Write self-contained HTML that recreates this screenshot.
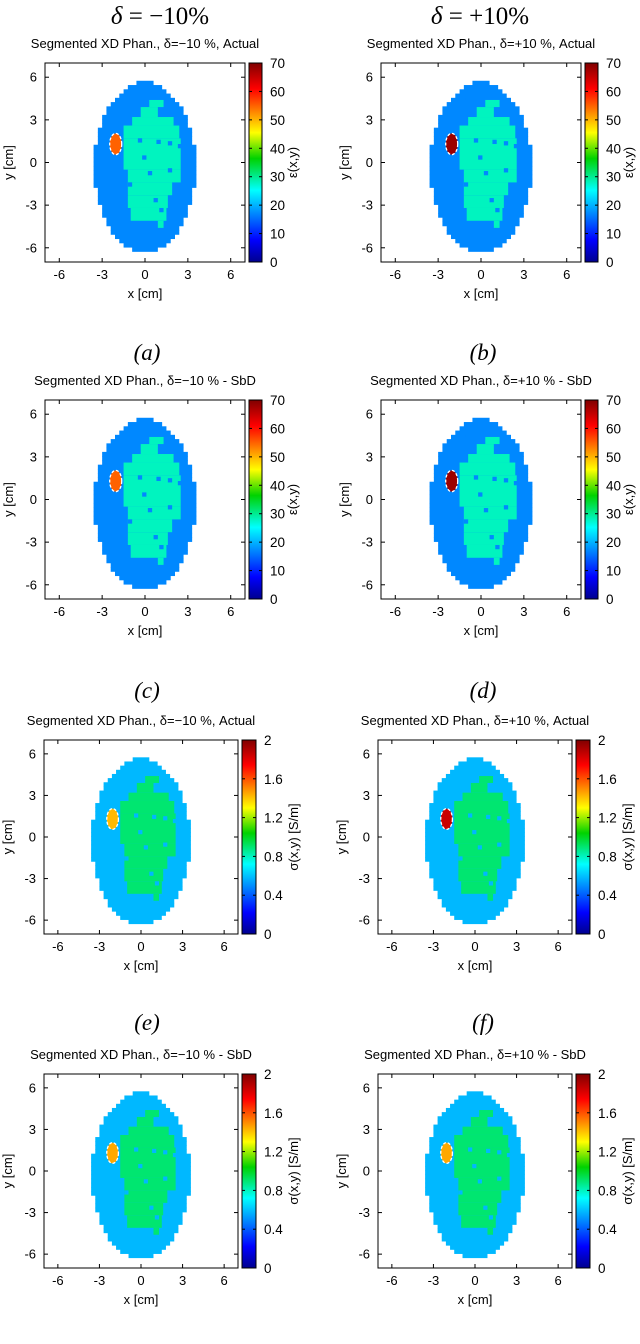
<!DOCTYPE html>
<html><head><meta charset="utf-8">
<style>
html,body{margin:0;padding:0;background:#fff;}
svg{display:block;font-family:"Liberation Sans",sans-serif;}
.serif{font-family:"Liberation Serif",serif;}
</style></head>
<body>
<svg id="fig" width="640" height="1344" viewBox="0 0 640 1344" xmlns="http://www.w3.org/2000/svg">
<defs>
<linearGradient id="jet" x1="0" y1="1" x2="0" y2="0">
<stop offset="0" stop-color="#00008f"/><stop offset="0.11" stop-color="#0000ff"/>
<stop offset="0.36" stop-color="#00ffff"/><stop offset="0.52" stop-color="#00d200"/>
<stop offset="0.65" stop-color="#ffff00"/>
<stop offset="0.87" stop-color="#ff0000"/><stop offset="1" stop-color="#800000"/>
</linearGradient>
</defs>
<text class="serif" x="160" y="24" font-size="25" text-anchor="middle"><tspan font-style="italic">δ</tspan> = −10%</text>
<text class="serif" x="480" y="24" font-size="25" text-anchor="middle"><tspan font-style="italic">δ</tspan> = +10%</text>
</svg>
<script>
// Data
const axisTicks = [-6, -3, 0, 3, 6];
const epsTicks = [0, 10, 20, 30, 40, 50, 60, 70];
const sigTicks = [0, 0.4, 0.8, 1.2, 1.6, 2];
const epsMax = 70, sigMax = 2;
// phantom outer ellipse [cx, cy, rx, ry] in cm
const outerEllipse = [0, -0.3, 3.55, 5.95];
// inclusion ellipse [cx, cy, rx, ry]
const inclusion = [-2.05, 1.3, 0.42, 0.75];
// inner tissue spans: [yTop, yBottom, xLeft, xRight] in cm
const innerSpans = [
 [4.4, 3.9, 0.3, 1.3],
 [3.9, 3.2, -0.3, 0.9],
 [3.2, 2.6, -0.9, 2.0],
 [2.6, 1.7, -1.5, 2.4],
 [1.7, -0.5, -1.5, 2.5],
 [-0.5, -1.4, -1.2, 2.5],
 [-1.4, -2.3, -1.2, 1.9],
 [-2.3, -3.2, -1.2, 1.6],
 [-3.2, -4.1, -1.0, 1.5],
 [-4.1, -4.6, 0.9, 1.3]
];
// outer-tissue dots inside inner region [x, y]
const holes = [[-1.1,4.4],[-1.5,3.5],[-0.5,1.4],[0.8,1.3],[1.6,1.2],[2.3,1.0],[-0.2,0.2],[0.2,-0.9],[1.6,-0.7],[-1.2,-1.7],[1.0,-3.5],[0.6,-2.8]];
const panels = [
 {label:'(a)', title:'Segmented XD Phan., δ=−10 %, Actual', kind:'eps', outer:17, inner:28, inc:55},
 {label:'(b)', title:'Segmented XD Phan., δ=+10 %, Actual', kind:'eps', outer:17, inner:28, inc:68},
 {label:'(c)', title:'Segmented XD Phan., δ=−10 % - SbD', kind:'eps', outer:17, inner:28, inc:55},
 {label:'(d)', title:'Segmented XD Phan., δ=+10 % - SbD', kind:'eps', outer:17, inner:28, inc:68},
 {label:'(e)', title:'Segmented XD Phan., δ=−10 %, Actual', kind:'sig', outer:0.58, inner:0.9, inc:1.42},
 {label:'(f)', title:'Segmented XD Phan., δ=+10 %, Actual', kind:'sig', outer:0.58, inner:0.9, inc:1.85},
 {label:'(g)', title:'Segmented XD Phan., δ=−10 % - SbD', kind:'sig', outer:0.58, inner:0.9, inc:1.45},
 {label:'(h)', title:'Segmented XD Phan., δ=+10 % - SbD', kind:'sig', outer:0.58, inner:0.9, inc:1.45}
];
const subLabels = ['(a)','(b)','(c)','(d)','(e)','(f)'];

const NS='http://www.w3.org/2000/svg';
const svg=document.getElementById('fig');
function mk(tag,attrs,parent){const e=document.createElementNS(NS,tag);for(const k in attrs)e.setAttribute(k,attrs[k]);(parent||svg).appendChild(e);return e;}
function jet(t){
 const st=[[0,[0,0,143]],[0.11,[0,0,255]],[0.36,[0,255,255]],[0.52,[0,210,0]],[0.65,[255,255,0]],[0.87,[255,0,0]],[1,[128,0,0]]];
 t=Math.max(0,Math.min(1,t));
 for(let i=1;i<st.length;i++){if(t<=st[i][0]){const a=st[i-1],b=st[i],f=(t-a[0])/(b[0]-a[0]);
  return 'rgb('+a[1].map((v,j)=>Math.round(v+(b[1][j]-v)*f)).join(',')+')';}}
 return 'rgb(128,0,0)';
}
const rowTops=[63,400,740,1074];
panels.forEach((p,i)=>{
 const col=i%2,row=Math.floor(i/2);
 const eps=p.kind==='eps';
 const W=eps?200:194,H=eps?199:194;
 const bx=(eps?45:44)+col*(eps?336:334),by=rowTops[row];
 const max=eps?epsMax:sigMax;
 const g=mk('g',{});
 
 
 const sx=v=>bx+(v+7)/14*W, sy=v=>by+(7-v)/14*H;
 const t=mk('text',{x:bx+W/2,y:by-15,'font-size':13,'text-anchor':'middle'},g);t.textContent=p.title;
 
 
 const cs=0.3;
 const cOut=jet(p.outer/max),cIn=jet(p.inner/max);
 const [ecx,ecy,erx,ery]=outerEllipse;
 for(let y=ecy-ery;y<ecy+ery;y+=cs){
  const yc=y+cs/2;
  const dy=(yc-ecy)/ery; if(Math.abs(dy)>1)continue;
  const half=erx*Math.sqrt(1-dy*dy);
  const nl=Math.round(half/cs)*cs;
  mk('rect',{x:sx(-nl),y:sy(y+cs),width:sx(nl)-sx(-nl),height:sy(y)-sy(y+cs)+0.5,fill:cOut},g);
 }
 innerSpans.forEach(s=>{
  const r=mk('rect',{x:sx(s[2]),y:sy(s[0]),width:sx(s[3])-sx(s[2]),height:sy(s[1])-sy(s[0]),fill:cIn},g);
  
  
 });
 holes.forEach(h=>{mk('rect',{x:sx(h[0]),y:sy(h[1]+cs),width:sx(cs)-sx(0),height:sy(0)-sy(cs),fill:cOut},g);});
 const [icx,icy,irx,iry]=inclusion;
 const inc=mk('ellipse',{cx:sx(icx),cy:sy(icy),rx:sx(irx)-sx(0),ry:sy(0)-sy(iry),fill:jet(p.inc/max),stroke:'#fff','stroke-width':1.3,'stroke-dasharray':'3,2'},g);
 
 
 mk('rect',{x:bx,y:by,width:W,height:H,fill:'none',stroke:'#000','stroke-width':1},g);
 axisTicks.forEach(v=>{
  mk('line',{x1:sx(v),x2:sx(v),y1:by+H,y2:by+H-4,stroke:'#000'},g);
  mk('line',{x1:sx(v),x2:sx(v),y1:by,y2:by+4,stroke:'#000'},g);
  mk('line',{x1:bx,x2:bx+4,y1:sy(v),y2:sy(v),stroke:'#000'},g);
  mk('line',{x1:bx+W,x2:bx+W-4,y1:sy(v),y2:sy(v),stroke:'#000'},g);
  const tx=mk('text',{x:sx(v),y:by+H+17,'font-size':13,'text-anchor':'middle'},g);tx.textContent=v;
  const ty=mk('text',{x:bx-8,y:sy(v)+4.5,'font-size':13,'text-anchor':'end'},g);ty.textContent=v;
 });
 const xl=mk('text',{x:bx+W/2,y:by+H+36,'font-size':13,'text-anchor':'middle'},g);xl.textContent='x [cm]';
 
 
 const yl=mk('text',{x:0,y:0,'font-size':13,'text-anchor':'middle',transform:`translate(${bx-32},${by+H/2}) rotate(-90)`},g);yl.textContent='y [cm]';
 
 
 const cx=bx+W+4,cw=eps?13:14;
 const cb=mk('rect',{x:cx,y:by,width:cw,height:H,fill:'url(#jet)',stroke:'#000','stroke-width':1},g);
 
 
 (eps?epsTicks:sigTicks).forEach(v=>{
  const yy=by+H-v/max*H;
  mk('line',{x1:cx,x2:cx+3,y1:yy,y2:yy,stroke:'#000'},g);
  mk('line',{x1:cx+cw,x2:cx+cw-3,y1:yy,y2:yy,stroke:'#000'},g);
  const tt=mk('text',{x:cx+cw+8,y:yy+5,'font-size':13.5},g);tt.textContent=v;
 });
 const cl=mk('text',{x:0,y:0,'font-size':13,'text-anchor':'middle',transform:`translate(${cx+cw+(eps?35:42)},${by+H/2}) rotate(-90)`},g);
 cl.textContent=eps?'ε(x,y)':'σ(x,y) [S/m]';
 
 
});
const labelY=[360,698,1030];
subLabels.forEach((l,i)=>{
 const t=mk('text',{x:i%2?483:147,y:labelY[Math.floor(i/2)],'font-size':23,'text-anchor':'middle',class:'serif','font-style':'italic'});
 t.textContent=l;
 
 
});
</script>
</body></html>
